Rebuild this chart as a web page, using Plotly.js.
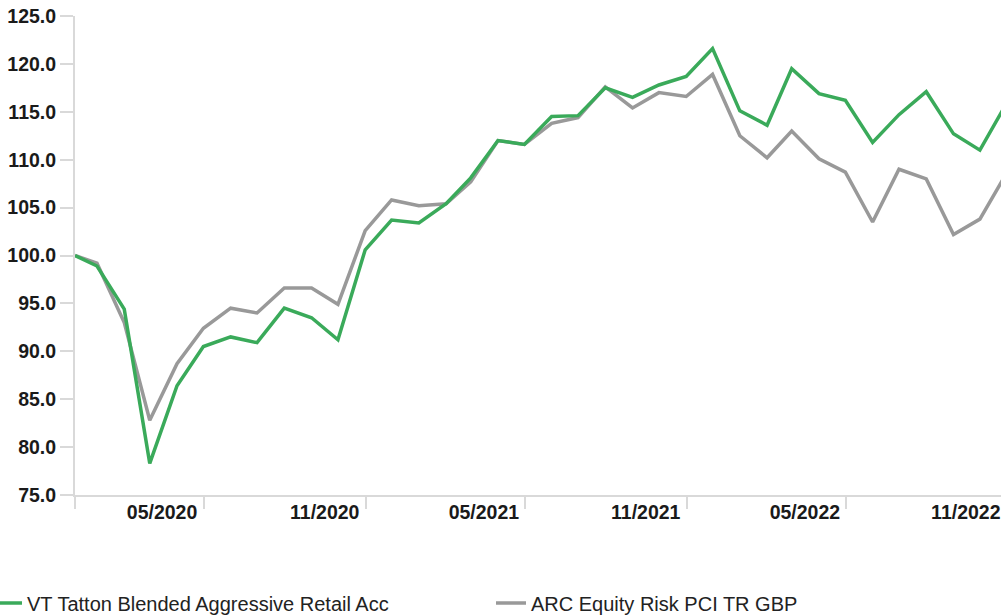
<!DOCTYPE html>
<html>
<head>
<meta charset="utf-8">
<script src="https://cdn.plot.ly/plotly-3.0.1.min.js"></script>
<style>
  html, body { margin: 0; padding: 0; background: #ffffff; }
  #chart { width: 1001px; height: 616px; }
</style>
</head>
<body>
<div id="chart"></div>
<script>
// Dates of the monthly observations
const dates = [
  '2019-12-06', '2019-12-31', '2020-01-31', '2020-02-29', '2020-03-31', '2020-04-30',
  '2020-05-31', '2020-06-30', '2020-07-31', '2020-08-31', '2020-09-30', '2020-10-31',
  '2020-11-30', '2020-12-31', '2021-01-31', '2021-02-28', '2021-03-31', '2021-04-30',
  '2021-05-31', '2021-06-30', '2021-07-31', '2021-08-31', '2021-09-30', '2021-10-31',
  '2021-11-30', '2021-12-31', '2022-01-31', '2022-02-28', '2022-03-31', '2022-04-30',
  '2022-05-31', '2022-06-30', '2022-07-31', '2022-08-31', '2022-09-30', '2022-10-31'
];

const seriesNames = ['VT Tatton Blended Aggressive Retail Acc', 'ARC Equity Risk PCI TR GBP'];

const fundValues = [
  100.0, 98.9, 94.4, 78.3, 86.4, 90.5,
  91.5, 90.9, 94.5, 93.5, 91.2, 100.6,
  103.7, 103.4, 105.4, 108.1, 112.0, 111.6,
  114.5, 114.6, 117.5, 116.5, 117.8, 118.7,
  121.6, 115.1, 113.6, 119.5, 116.9, 116.2,
  111.8, 114.7, 117.1, 112.7, 111.0, 116.0
];

const sectorValues = [
  100.0, 99.2, 93.0, 82.8, 88.7, 92.4,
  94.5, 94.0, 96.6, 96.6, 94.9, 102.6,
  105.8, 105.2, 105.4, 107.7, 112.0, 111.6,
  113.8, 114.4, 117.6, 115.4, 117.0, 116.6,
  118.9, 112.5, 110.2, 113.0, 110.1, 108.7,
  103.5, 109.0, 108.0, 102.2, 103.8, 108.7
];

// Axis tick marks (period boundaries) and tick labels
const tickMarkDates = ['2019-12-06', '2020-05-01', '2020-11-01', '2021-05-01', '2021-11-01', '2022-05-01'];
const tickLabelDates = ['2020-03-14', '2020-09-15', '2021-03-15', '2021-09-15', '2022-03-15', '2022-09-14'];
const tickLabels = ['05/2020', '11/2020', '05/2021', '11/2021', '05/2022', '11/2022'];

const xRange = ['2019-12-06', '2022-10-24'];
const yRange = [75, 125];

const colors = ['#3aaa5a', '#999999'];
const axisGrey = '#d9d9d9';
const labelFont = { family: 'Liberation Sans, Arial, sans-serif', size: 19.5, color: '#1a1a1a', weight: 'bold' };
const legendFont = { family: 'Liberation Sans, Arial, sans-serif', size: 20, color: '#222222' };

const traces = [
  {
    x: dates, y: sectorValues, name: seriesNames[1], type: 'scatter', mode: 'lines',
    line: { color: colors[1], width: 3.5 }, hoverinfo: 'skip', legend: 'legend2'
  },
  {
    x: dates, y: fundValues, name: seriesNames[0], type: 'scatter', mode: 'lines',
    line: { color: colors[0], width: 3.5 }, hoverinfo: 'skip', legend: 'legend'
  }
];

const W = 1001, H = 616;
const M = { l: 75, r: 0, t: 16, b: 121, autoexpand: false };
const plotW = W - M.l - M.r, plotH = H - M.t - M.b;
const px2x = p => (p - M.l) / plotW;
const py2y = p => (H - M.b - p) / plotH;

const layout = {
  width: W,
  height: H,
  margin: M,
  paper_bgcolor: '#ffffff',
  plot_bgcolor: '#ffffff',
  showlegend: true,
  xaxis: {
    type: 'date',
    range: xRange,
    automargin: false,
    showgrid: false,
    zeroline: false,
    showline: true,
    linecolor: axisGrey,
    linewidth: 2,
    tickmode: 'array',
    tickvals: tickLabelDates,
    ticktext: tickLabels,
    ticks: 'outside',
    ticklen: 0,
    tickcolor: axisGrey,
    tickfont: labelFont,
    ticklabelstandoff: -1,
    ticklabeloverflow: 'allow',
    minor: {
      tickmode: 'array',
      tickvals: tickMarkDates,
      ticks: 'outside',
      ticklen: 12,
      tickwidth: 2,
      tickcolor: axisGrey,
      showgrid: false
    }
  },
  yaxis: {
    range: yRange,
    automargin: false,
    tickmode: 'linear',
    tick0: 75,
    dtick: 5,
    tickformat: '.1f',
    showgrid: false,
    zeroline: false,
    showline: true,
    linecolor: axisGrey,
    linewidth: 2,
    ticks: 'outside',
    ticklen: 13,
    tickwidth: 2,
    tickcolor: axisGrey,
    tickfont: labelFont
  },
  legend: {
    orientation: 'h',
    x: px2x(-13),
    xanchor: 'left',
    y: py2y(603),
    yanchor: 'middle',
    font: legendFont,
    bgcolor: 'rgba(0,0,0,0)',
    borderwidth: 0
  },
  legend2: {
    orientation: 'h',
    x: px2x(491),
    xanchor: 'left',
    y: py2y(603),
    yanchor: 'middle',
    font: legendFont,
    bgcolor: 'rgba(0,0,0,0)',
    borderwidth: 0
  }
};

Plotly.newPlot('chart', traces, layout, { displayModeBar: false, staticPlot: true });
</script>
</body>
</html>
